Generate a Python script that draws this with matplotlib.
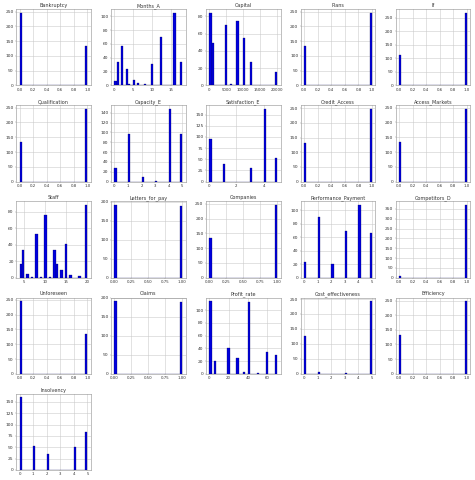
import numpy as np
import matplotlib
matplotlib.use("Agg")
import matplotlib.pyplot as plt


# values seen in each column and how often each one occurs
bankruptcy_vals = [0, 1]
bankruptcy_counts = [246, 135]

months_vals = [0, 1, 2, 3, 4, 5, 6, 8, 9, 10, 12, 16, 18]
months_counts = [6, 34, 57, 24, 2, 8, 4, 2, 1, 31, 70, 105, 34]

capital_vals = [0, 1000, 5000, 6500, 7200, 8500, 10500, 12500, 15000, 20000]
capital_counts = [84, 49, 70, 2, 1, 75, 55, 27, 1, 15]

plans_vals = [0, 1]
plans_counts = [135, 246]

if_vals = [0, 1]
if_counts = [113, 268]

qualification_vals = [0, 1]
qualification_counts = [135, 246]

capacity_vals = [0, 1, 2, 3, 4, 5]
capacity_counts = [27, 96, 10, 1, 148, 97]

satisfaction_vals = [0, 1, 3, 4, 5]
satisfaction_counts = [95, 40, 30, 163, 52]

credit_vals = [0, 1]
credit_counts = [133, 248]

markets_vals = [0, 1]
markets_counts = [135, 246]

staff_vals = [4, 5, 6, 7, 8, 9, 10, 11, 12, 13, 14, 15, 16, 18, 20]
staff_counts = [16, 34, 4, 1, 53, 1, 76, 1, 34, 16, 9, 41, 3, 2, 88]

letters_vals = [0, 1]
letters_counts = [191, 188]

companies_vals = [0, 1]
companies_counts = [135, 246]

payment_vals = [0, 1, 2, 3, 4, 5]
payment_counts = [24, 90, 20, 70, 108, 67]

competitors_vals = [0, 1]
competitors_counts = [10, 370]

unforeseen_vals = [0, 1]
unforeseen_counts = [246, 135]

claims_vals = [0, 1]
claims_counts = [191, 188]

profit_vals = [0, 5, 20, 30, 35, 40, 50, 60, 70]
profit_counts = [114, 20, 41, 24, 3, 113, 2, 34, 30]

cost_vals = [0, 1, 3, 5]
cost_counts = [128, 6, 4, 243]

efficiency_vals = [0, 1]
efficiency_counts = [133, 248]

insolvency_vals = [0, 1, 2, 4, 5]
insolvency_counts = [160, 52, 36, 50, 84]

# a few panels got coarser x ticks in the original
quarter_ticks = [0.0, 0.25, 0.5, 0.75, 1.0]
even_ticks = [0, 2, 4]

columns = [
    ("Bankruptcy", bankruptcy_vals, bankruptcy_counts, None),
    ("Months_A", months_vals, months_counts, None),
    ("Capital", capital_vals, capital_counts, None),
    ("Plans", plans_vals, plans_counts, None),
    ("If", if_vals, if_counts, None),
    ("Qualification", qualification_vals, qualification_counts, None),
    ("Capacity_E", capacity_vals, capacity_counts, None),
    ("Satisfaction_E", satisfaction_vals, satisfaction_counts, even_ticks),
    ("Credit_Access", credit_vals, credit_counts, None),
    ("Access_Markets", markets_vals, markets_counts, None),
    ("Staff", staff_vals, staff_counts, None),
    ("Letters_for_pay", letters_vals, letters_counts, quarter_ticks),
    ("Companies", companies_vals, companies_counts, quarter_ticks),
    ("Performance_Payment", payment_vals, payment_counts, None),
    ("Competitors_D", competitors_vals, competitors_counts, None),
    ("Unforeseen", unforeseen_vals, unforeseen_counts, None),
    ("Claims", claims_vals, claims_counts, quarter_ticks),
    ("Profit_rate", profit_vals, profit_counts, None),
    ("Cost_effectiveness", cost_vals, cost_counts, None),
    ("Efficiency", efficiency_vals, efficiency_counts, None),
    ("Insolvency", insolvency_vals, insolvency_counts, None),
]

# big figure at low dpi, so it looks like a shrunk df.hist()
fig, axes = plt.subplots(5, 5, figsize=(19, 19.2), dpi=25)
axes = axes.ravel()

for ax, (name, vals, counts, xticks) in zip(axes, columns):
    ax.hist(vals, bins=30, weights=counts, color="#0000dd", edgecolor="#000055", linewidth=0.8)
    ax.set_title(name, fontsize=14, color="#333333")
    ax.grid(True, color="#c8c8c8", linewidth=1.5)
    ax.set_axisbelow(True)
    ax.tick_params(axis="x", labelsize=11, labelcolor="#333333", color="#555555")
    ax.tick_params(axis="y", labelsize=12.5, labelcolor="#333333", color="#555555")
    if xticks is not None:
        ax.set_xticks(xticks)
        if xticks is quarter_ticks:
            ax.set_xticklabels([f"{t:.2f}" for t in xticks])
    for s in ax.spines.values():
        s.set_color("#888888")
        s.set_linewidth(1.5)

for ax in axes[len(columns):]:
    ax.set_visible(False)

fig.subplots_adjust(left=0.034, right=0.99, top=0.981, bottom=0.021, wspace=0.27, hspace=0.26)
fig.savefig("out.png", dpi=25)
